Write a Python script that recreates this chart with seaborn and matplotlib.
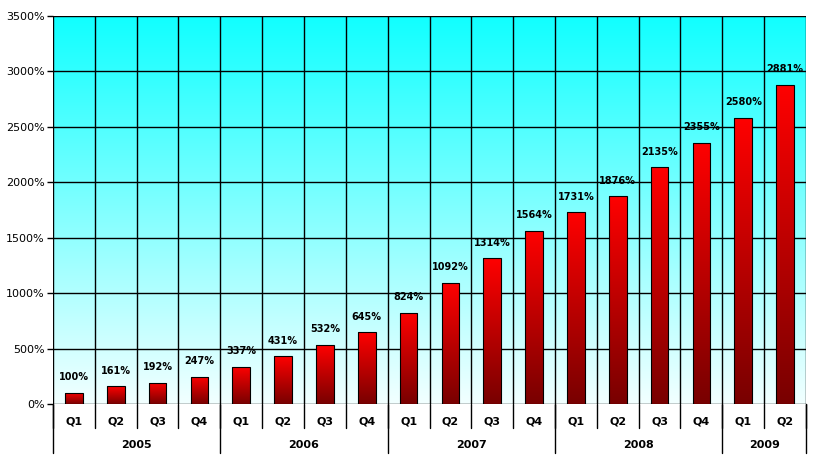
import numpy as np
import pandas as pd
import seaborn as sns
import matplotlib.pyplot as plt
import matplotlib.transforms as mtransforms
from matplotlib.colors import LinearSegmentedColormap

# chart data
years = ['2005', '2006', '2007', '2008', '2009']
quarters_per_year = [4, 4, 4, 4, 2]
quarter_labels = ['Q1', 'Q2', 'Q3', 'Q4'] * 4 + ['Q1', 'Q2']
growth = [100, 161, 192, 247, 337, 431, 532, 645, 824, 1092,
          1314, 1564, 1731, 1876, 2135, 2355, 2580, 2881]

df = pd.DataFrame({'idx': range(len(growth)), 'growth': growth})

sns.set_style('white')
plt.rcParams['font.family'] = ['DejaVu Sans']
plt.rcParams['text.color'] = 'black'
plt.rcParams['ytick.color'] = 'black'
plt.rcParams['ytick.labelcolor'] = 'black'

fig = plt.figure(figsize=(8.14, 4.65), dpi=100)
ax = fig.add_axes([53 / 814, 61 / 465, 753 / 814, 388 / 465])

ax = sns.barplot(data=df, x='idx', y='growth', width=0.42, color='red',
                 edgecolor='black', linewidth=0.8, ax=ax, zorder=3)

ax.set_xlim(-0.5, len(growth) - 0.5)
ax.set_ylim(0, 3500)

# background gradient: cyan at top -> pale at bottom
bg = LinearSegmentedColormap.from_list('bg', ['#f2ffff', '#10ffff'])
ax.imshow(np.linspace(0, 1, 256).reshape(-1, 1), cmap=bg, aspect='auto',
          extent=(-0.5, len(growth) - 0.5, 0, 3500), origin='lower', zorder=0)

# gradient fill of each bar: bright red on top -> dark red at bottom
bar_cmap = LinearSegmentedColormap.from_list('bar', ['#780000', '#ff0000'])
for patch in ax.patches:
    x0, y0 = patch.get_x(), patch.get_y()
    w, h = patch.get_width(), patch.get_height()
    im = ax.imshow(np.linspace(0, 1, 256).reshape(-1, 1), cmap=bar_cmap,
                   aspect='auto', extent=(x0, x0 + w, y0, y0 + h),
                   origin='lower', zorder=3)
    im.set_clip_path(patch)
    patch.set_facecolor('none')
    patch.set_zorder(4)

ax.set_xlim(-0.5, len(growth) - 0.5)
ax.set_ylim(0, 3500)

# grid
for v in range(0, 3501, 500):
    ax.axhline(v, color='black', lw=1, zorder=1)
for b in np.arange(-0.5, len(growth), 1):
    ax.axvline(b, color='black', lw=1, zorder=1)
for s in ax.spines.values():
    s.set_visible(False)

# value labels
for i, v in enumerate(growth):
    ax.text(i, v + 95, f'{v}%', ha='center', va='bottom', fontsize=7,
            fontweight='bold', color='black', zorder=5)

ax.set_yticks(range(0, 3501, 500))
ax.set_yticklabels([f'{v}%' for v in range(0, 3501, 500)], fontsize=8,
                   color='black')
ax.tick_params(axis='y', length=4, width=1, color='black', left=True, pad=2)
ax.set_xticks([])
ax.set_xlabel('')
ax.set_ylabel('')

# two-level category axis
trans = mtransforms.blended_transform_factory(ax.transData, ax.transAxes)
for i, q in enumerate(quarter_labels):
    ax.text(i, -0.045, q, transform=trans, ha='center', va='center',
            fontsize=8, fontweight='bold', color='black')
for b in np.arange(-0.5, len(growth), 1):
    ax.plot([b, b], [0, -0.062], transform=trans, color='black', lw=1,
            clip_on=False)
start = 0
ax.plot([-0.5, -0.5], [0, -0.125], transform=trans, color='black', lw=1,
        clip_on=False)
for y, n in zip(years, quarters_per_year):
    ax.text(start + (n - 1) / 2, -0.105, y, transform=trans, ha='center',
            va='center', fontsize=8, fontweight='bold', color='black')
    start += n
    ax.plot([start - 0.5, start - 0.5], [0, -0.125], transform=trans,
            color='black', lw=1, clip_on=False)

fig.savefig('out.png', dpi=100)
